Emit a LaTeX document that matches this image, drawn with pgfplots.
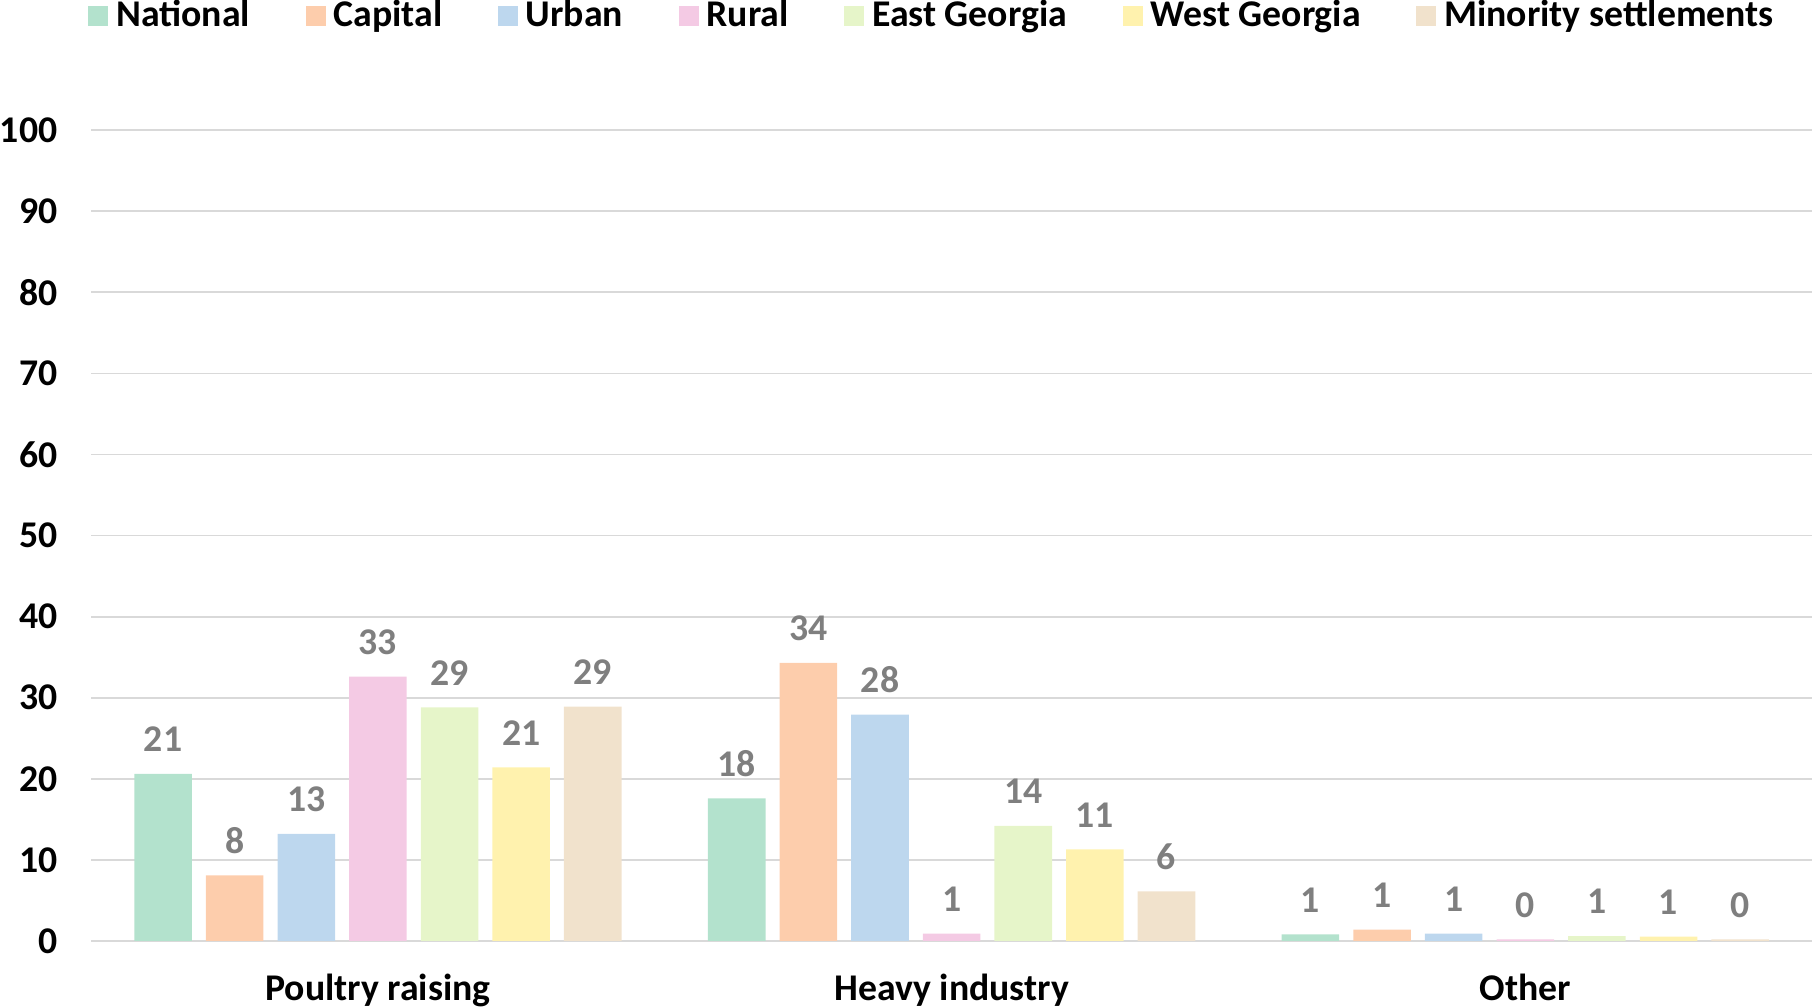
\documentclass[border=0pt]{standalone}
\usepackage{fontspec}
\setmainfont{Carlito}
\usepackage{pgfplots}
\pgfplotsset{compat=1.18}

\definecolor{cNat}{HTML}{B3E2CD}
\definecolor{cCap}{HTML}{FDCDAC}
\definecolor{cUrb}{HTML}{BDD7EE}
\definecolor{cRur}{HTML}{F4CAE4}
\definecolor{cEas}{HTML}{E6F5C9}
\definecolor{cWes}{HTML}{FFF2AE}
\definecolor{cMin}{HTML}{F1E2CC}
\definecolor{labgray}{HTML}{7F7F7F}
\definecolor{gridgray}{HTML}{D9D9D9}

\newcommand{\chartfont}{\fontsize{10.75}{12.5}\selectfont\bfseries}

\begin{document}
\begin{tikzpicture}
\begin{axis}[
    width=17.23cm, height=8.117cm, scale only axis,
    ybar=4pt, bar width=16.4pt,
    xmin=-0.5, xmax=2.5,
    ymin=0, ymax=100,
    ytick={0,10,...,100},
    xtick=data,
    xticklabels={Poultry raising, Heavy industry, Other},
    ymajorgrids=true,
    grid style={draw=gridgray, line width=0.5pt},
    axis line style={draw=none},
    major tick length=0pt,
    /pgf/number format/assume math mode=true,
    tick label style={font=\chartfont, text=black},
    yticklabel style={anchor=east, inner sep=0pt, xshift=-9.4pt},
    xticklabel style={anchor=base, inner sep=0pt, yshift=-6mm},
    nodes near coords={\pgfmathprintnumber[fixed,precision=0]{\pgfplotspointmeta}},
    every node near coord/.append style={font=\chartfont, text=labgray,
        anchor=base, inner sep=0pt, yshift=6.3pt},
    legend columns=-1,
    legend image code/.code={\fill[#1,draw=none] (0pt,-2.85pt) rectangle (5.7pt,2.85pt);},
    legend style={at={(rel axis cs:0,1)}, anchor=north west,
        xshift=-1pt, yshift=13.1mm,
        draw=none, fill=none, inner sep=0pt,
        font=\chartfont,
        nodes={inner sep=0pt},
        /tikz/every odd column/.append style={column sep=2.3pt},
        /tikz/every even column/.append style={column sep=15.8pt}},
]
\addplot[fill=cNat, draw=none] coordinates {(0,20.6) (1,17.6) (2,0.8)};
\addlegendentry{National}
\addplot[fill=cCap, draw=none] coordinates {(0,8.1) (1,34.3) (2,1.4)};
\addlegendentry{Capital}
\addplot[fill=cUrb, draw=none] coordinates {(0,13.2) (1,27.9) (2,0.9)};
\addlegendentry{Urban}
\addplot[fill=cRur, draw=none] coordinates {(0,32.6) (1,0.9) (2,0.2)};
\addlegendentry{Rural}
\addplot[fill=cEas, draw=none] coordinates {(0,28.8) (1,14.2) (2,0.6)};
\addlegendentry{East Georgia}
\addplot[fill=cWes, draw=none] coordinates {(0,21.4) (1,11.3) (2,0.52)};
\addlegendentry{West Georgia}
\addplot[fill=cMin, draw=none] coordinates {(0,28.9) (1,6.1) (2,0.2)};
\addlegendentry{Minority settlements}
\end{axis}
\end{tikzpicture}
\end{document}
